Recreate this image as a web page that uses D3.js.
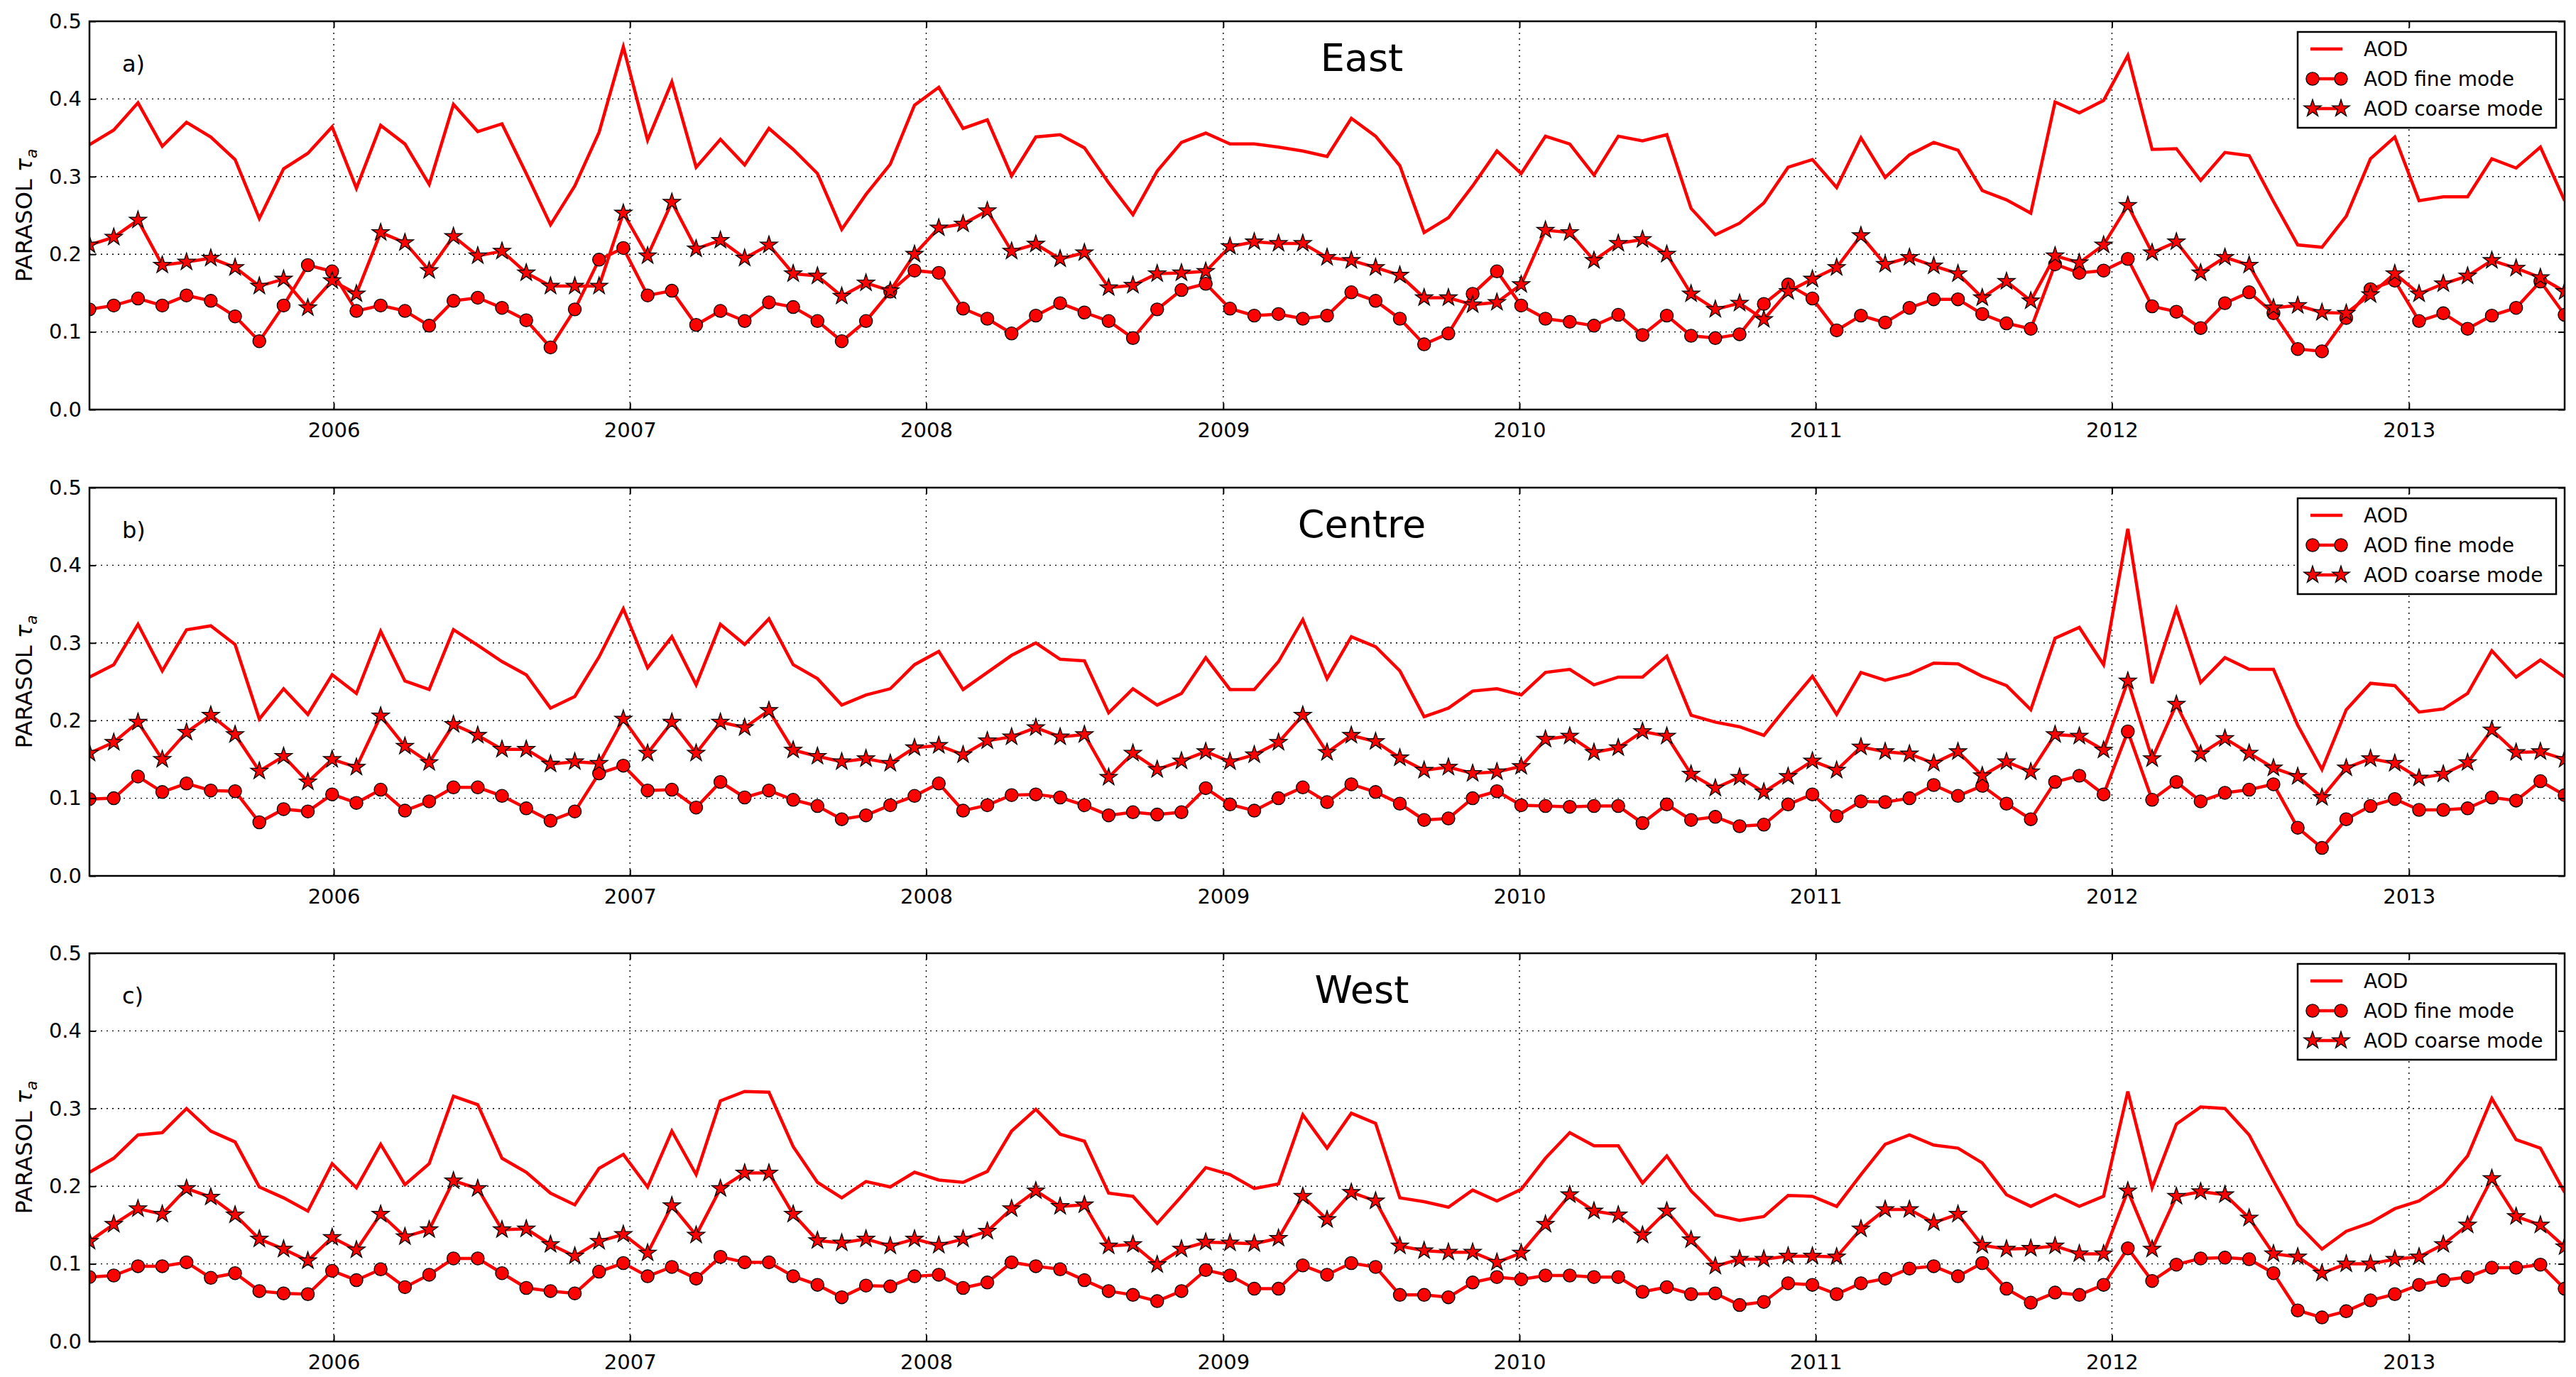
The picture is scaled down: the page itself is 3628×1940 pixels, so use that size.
<!DOCTYPE html>
<html>
<head>
<meta charset="utf-8">
<script src="https://cdn.jsdelivr.net/npm/d3@7"></script>
<style>
  body { margin: 0; background: #fff; }
  svg { display: block; font-family: "DejaVu Sans", sans-serif; }
</style>
</head>
<body>
<div id="vis"></div>
<script>
const width = 3628;
const height = 1940;

// categories / labels
const regions = ["East", "Centre", "West"];
const panelLetters = ["a)", "b)", "c)"];
const legendLabels = ["AOD", "AOD fine mode", "AOD coarse mode"];
const yTicks = [0.0, 0.1, 0.2, 0.3, 0.4, 0.5];
// composites every ~30 days starting early March 2005
const firstDay = new Date(2005, 2, 6);
const stepDays = 29.9;

// a) East
const eastAOD = [
	0.341, 0.360, 0.395, 0.339, 0.370, 0.351, 0.322, 0.246, 0.310, 0.330, 0.364, 0.285, 0.366,
	0.342, 0.290, 0.393, 0.358, 0.368, 0.304, 0.238, 0.288, 0.357, 0.467, 0.347, 0.422, 0.312,
	0.348, 0.315, 0.362, 0.335, 0.304, 0.232, 0.277, 0.316, 0.392, 0.415, 0.362, 0.373, 0.301,
	0.351, 0.354, 0.337, 0.292, 0.251, 0.307, 0.344, 0.356, 0.342, 0.342, 0.338, 0.333, 0.326,
	0.375, 0.352, 0.314, 0.228, 0.247, 0.288, 0.333, 0.304, 0.352, 0.342, 0.302, 0.352, 0.346,
	0.354, 0.259, 0.225, 0.240, 0.266, 0.312, 0.322, 0.286, 0.350, 0.299, 0.328, 0.344, 0.334,
	0.282, 0.270, 0.253, 0.396, 0.382, 0.398, 0.456, 0.335, 0.336, 0.295, 0.331, 0.327, 0.268,
	0.212, 0.209, 0.249, 0.323, 0.351, 0.269, 0.274, 0.274, 0.323, 0.311, 0.338, 0.269
];
const eastFine = [
	0.129, 0.134, 0.143, 0.134, 0.147, 0.140, 0.120, 0.088, 0.134, 0.186, 0.178, 0.127, 0.134,
	0.127, 0.108, 0.140, 0.144, 0.131, 0.115, 0.080, 0.129, 0.193, 0.208, 0.147, 0.153, 0.109,
	0.127, 0.114, 0.138, 0.132, 0.114, 0.088, 0.114, 0.152, 0.179, 0.176, 0.130, 0.117, 0.098,
	0.121, 0.137, 0.125, 0.114, 0.092, 0.129, 0.154, 0.162, 0.130, 0.121, 0.123, 0.117, 0.121,
	0.151, 0.140, 0.117, 0.084, 0.098, 0.149, 0.178, 0.134, 0.117, 0.113, 0.108, 0.122, 0.096,
	0.121, 0.095, 0.092, 0.097, 0.136, 0.161, 0.143, 0.102, 0.121, 0.112, 0.131, 0.142, 0.142,
	0.123, 0.111, 0.104, 0.187, 0.176, 0.179, 0.194, 0.133, 0.126, 0.105, 0.137, 0.151, 0.124,
	0.078, 0.075, 0.118, 0.155, 0.166, 0.114, 0.124, 0.104, 0.121, 0.131, 0.165, 0.122
];
const eastCoarse = [
	0.212, 0.222, 0.244, 0.186, 0.190, 0.195, 0.183, 0.159, 0.168, 0.131, 0.166, 0.149, 0.228,
	0.215, 0.179, 0.223, 0.198, 0.204, 0.176, 0.159, 0.159, 0.159, 0.253, 0.198, 0.267, 0.207,
	0.218, 0.195, 0.212, 0.175, 0.172, 0.146, 0.163, 0.153, 0.200, 0.234, 0.239, 0.256, 0.204,
	0.213, 0.194, 0.202, 0.157, 0.160, 0.175, 0.176, 0.178, 0.210, 0.216, 0.214, 0.214, 0.196,
	0.192, 0.183, 0.173, 0.144, 0.144, 0.135, 0.138, 0.161, 0.231, 0.228, 0.192, 0.214, 0.219,
	0.200, 0.149, 0.129, 0.137, 0.116, 0.152, 0.168, 0.183, 0.224, 0.187, 0.196, 0.185, 0.175,
	0.144, 0.165, 0.140, 0.198, 0.189, 0.212, 0.263, 0.202, 0.216, 0.176, 0.196, 0.186, 0.131,
	0.134, 0.125, 0.124, 0.148, 0.175, 0.149, 0.162, 0.172, 0.192, 0.182, 0.170, 0.152
];

// b) Centre
const centreAOD = [
	0.256, 0.272, 0.324, 0.264, 0.317, 0.322, 0.298, 0.202, 0.241, 0.208, 0.259, 0.235, 0.315,
	0.251, 0.240, 0.317, 0.297, 0.276, 0.259, 0.216, 0.231, 0.282, 0.344, 0.268, 0.308, 0.246,
	0.324, 0.298, 0.331, 0.272, 0.254, 0.220, 0.233, 0.241, 0.272, 0.289, 0.240, 0.262, 0.284,
	0.300, 0.279, 0.277, 0.210, 0.241, 0.220, 0.235, 0.281, 0.240, 0.240, 0.276, 0.330, 0.254,
	0.308, 0.295, 0.264, 0.205, 0.216, 0.238, 0.241, 0.233, 0.262, 0.266, 0.246, 0.256, 0.256,
	0.283, 0.207, 0.198, 0.192, 0.181, 0.220, 0.257, 0.208, 0.262, 0.252, 0.260, 0.274, 0.273,
	0.257, 0.245, 0.214, 0.306, 0.320, 0.272, 0.447, 0.248, 0.344, 0.249, 0.281, 0.266, 0.266,
	0.194, 0.137, 0.214, 0.248, 0.245, 0.211, 0.215, 0.235, 0.290, 0.256, 0.278, 0.256
];
const centreFine = [
	0.099, 0.100, 0.128, 0.108, 0.119, 0.110, 0.109, 0.069, 0.086, 0.083, 0.105, 0.094, 0.111,
	0.084, 0.096, 0.114, 0.114, 0.103, 0.087, 0.071, 0.083, 0.132, 0.142, 0.110, 0.111, 0.088,
	0.121, 0.101, 0.110, 0.098, 0.090, 0.073, 0.078, 0.091, 0.103, 0.119, 0.084, 0.091, 0.104,
	0.105, 0.101, 0.091, 0.078, 0.082, 0.079, 0.082, 0.113, 0.092, 0.084, 0.100, 0.114, 0.095,
	0.118, 0.108, 0.093, 0.072, 0.074, 0.100, 0.109, 0.091, 0.090, 0.089, 0.090, 0.090, 0.068,
	0.092, 0.072, 0.076, 0.064, 0.066, 0.092, 0.105, 0.077, 0.096, 0.095, 0.100, 0.117, 0.103,
	0.116, 0.093, 0.073, 0.121, 0.129, 0.105, 0.186, 0.098, 0.121, 0.096, 0.107, 0.111, 0.118,
	0.062, 0.036, 0.073, 0.090, 0.099, 0.085, 0.085, 0.087, 0.101, 0.097, 0.122, 0.104
];
const centreCoarse = [
	0.158, 0.172, 0.198, 0.150, 0.185, 0.207, 0.182, 0.135, 0.154, 0.121, 0.150, 0.140, 0.206,
	0.167, 0.146, 0.195, 0.181, 0.163, 0.163, 0.144, 0.147, 0.145, 0.202, 0.158, 0.198, 0.158,
	0.198, 0.191, 0.213, 0.162, 0.154, 0.147, 0.151, 0.145, 0.165, 0.168, 0.156, 0.174, 0.179,
	0.191, 0.179, 0.182, 0.127, 0.158, 0.137, 0.148, 0.160, 0.147, 0.156, 0.172, 0.207, 0.159,
	0.181, 0.173, 0.152, 0.136, 0.140, 0.132, 0.134, 0.141, 0.176, 0.180, 0.159, 0.165, 0.186,
	0.180, 0.131, 0.113, 0.127, 0.108, 0.128, 0.148, 0.136, 0.166, 0.160, 0.157, 0.145, 0.160,
	0.129, 0.147, 0.134, 0.182, 0.180, 0.162, 0.251, 0.151, 0.221, 0.157, 0.177, 0.158, 0.139,
	0.128, 0.101, 0.139, 0.151, 0.145, 0.126, 0.131, 0.146, 0.188, 0.159, 0.160, 0.150
];

// c) West
const westAOD = [
	0.218, 0.236, 0.266, 0.269, 0.300, 0.271, 0.257, 0.199, 0.185, 0.168, 0.229, 0.198, 0.254,
	0.202, 0.229, 0.316, 0.305, 0.236, 0.218, 0.191, 0.176, 0.223, 0.241, 0.199, 0.271, 0.215,
	0.310, 0.322, 0.321, 0.251, 0.205, 0.185, 0.206, 0.199, 0.218, 0.208, 0.205, 0.219, 0.271,
	0.299, 0.267, 0.258, 0.191, 0.187, 0.152, 0.187, 0.224, 0.215, 0.197, 0.203, 0.292, 0.249,
	0.294, 0.281, 0.185, 0.180, 0.173, 0.195, 0.181, 0.196, 0.236, 0.269, 0.252, 0.252, 0.204,
	0.239, 0.194, 0.163, 0.156, 0.161, 0.188, 0.187, 0.174, 0.215, 0.254, 0.266, 0.253, 0.249,
	0.230, 0.189, 0.174, 0.189, 0.174, 0.187, 0.322, 0.198, 0.280, 0.302, 0.300, 0.266, 0.207,
	0.151, 0.119, 0.142, 0.153, 0.171, 0.181, 0.202, 0.239, 0.313, 0.260, 0.249, 0.192
];
const westFine = [
	0.083, 0.085, 0.097, 0.097, 0.102, 0.082, 0.088, 0.065, 0.062, 0.061, 0.091, 0.079, 0.093,
	0.070, 0.086, 0.107, 0.107, 0.088, 0.069, 0.065, 0.062, 0.090, 0.101, 0.084, 0.096, 0.081,
	0.109, 0.102, 0.102, 0.084, 0.073, 0.057, 0.072, 0.071, 0.084, 0.086, 0.069, 0.076, 0.102,
	0.097, 0.093, 0.079, 0.065, 0.060, 0.052, 0.065, 0.092, 0.085, 0.068, 0.068, 0.098, 0.086,
	0.101, 0.096, 0.060, 0.060, 0.057, 0.076, 0.083, 0.080, 0.085, 0.085, 0.083, 0.083, 0.064,
	0.070, 0.061, 0.062, 0.047, 0.051, 0.075, 0.073, 0.061, 0.075, 0.081, 0.094, 0.097, 0.084,
	0.101, 0.068, 0.050, 0.063, 0.060, 0.073, 0.120, 0.078, 0.099, 0.107, 0.108, 0.106, 0.088,
	0.040, 0.031, 0.039, 0.053, 0.061, 0.073, 0.079, 0.083, 0.095, 0.095, 0.099, 0.068
];
const westCoarse = [
	0.129, 0.151, 0.171, 0.164, 0.197, 0.186, 0.163, 0.132, 0.119, 0.104, 0.134, 0.118, 0.164,
	0.135, 0.144, 0.207, 0.197, 0.144, 0.145, 0.125, 0.110, 0.129, 0.138, 0.114, 0.175, 0.137,
	0.197, 0.217, 0.217, 0.164, 0.130, 0.127, 0.132, 0.123, 0.132, 0.124, 0.132, 0.142, 0.171,
	0.194, 0.174, 0.176, 0.123, 0.125, 0.099, 0.119, 0.128, 0.127, 0.126, 0.133, 0.187, 0.157,
	0.192, 0.181, 0.123, 0.117, 0.115, 0.115, 0.102, 0.114, 0.151, 0.189, 0.168, 0.163, 0.137,
	0.168, 0.131, 0.097, 0.106, 0.106, 0.110, 0.110, 0.109, 0.145, 0.170, 0.170, 0.153, 0.164,
	0.124, 0.119, 0.120, 0.123, 0.113, 0.113, 0.194, 0.119, 0.187, 0.193, 0.189, 0.159, 0.113,
	0.109, 0.088, 0.100, 0.100, 0.106, 0.109, 0.125, 0.150, 0.210, 0.161, 0.150, 0.122
];

const panels = [
	{ aod: eastAOD, fine: eastFine, coarse: eastCoarse },
	{ aod: centreAOD, fine: centreFine, coarse: centreCoarse },
	{ aod: westAOD, fine: westFine, coarse: westCoarse }
];

// layout
const plotLeft = 126, plotRight = 3612;
const panelTops = [30, 687, 1343];
const panelHeight = 547;
const red = "#ff0000";

const dates = eastAOD.map((d, i) => d3.timeHour.offset(firstDay, Math.round(i * stepDays * 24)));

const x = d3.scaleTime()
	.domain([dates[0], dates[dates.length - 1]])
	.range([plotLeft, plotRight]);
const years = d3.timeYear.range(d3.timeYear.ceil(dates[0]), dates[dates.length - 1]);

const svg = d3.select("div#vis")
	.append("svg")
		.attr("width", width)
		.attr("height", height);

svg.append("rect").attr("width", width).attr("height", height).attr("fill", "#fff");

const circle = d3.symbol(d3.symbolCircle).size(260);
const star = d3.symbol(d3.symbolStar).size(185);

function styleAxis (g) {
	g.select(".domain").remove();
	g.selectAll(".tick line").attr("stroke", "#000").attr("stroke-width", 2);
	g.selectAll("text").attr("font-family", "DejaVu Sans").attr("font-size", 29).attr("fill", "#000");
}

panels.forEach((p, k) => {
	const top = panelTops[k];
	const bottom = top + panelHeight;
	const y = d3.scaleLinear().domain([0, 0.5]).range([bottom, top]);

	const g = svg.append("g");

	svg.append("clipPath")
		.attr("id", "clip" + k)
		.append("rect")
			.attr("x", plotLeft).attr("y", top)
			.attr("width", plotRight - plotLeft).attr("height", panelHeight);

	// dotted grid
	g.append("g").selectAll("line")
		.data(yTicks)
		.join("line")
			.attr("x1", plotLeft).attr("x2", plotRight)
			.attr("y1", d => y(d)).attr("y2", d => y(d))
			.attr("stroke", "#000").attr("stroke-width", 1.4)
			.attr("stroke-dasharray", "2,6");
	g.append("g").selectAll("line")
		.data(years)
		.join("line")
			.attr("x1", d => x(d)).attr("x2", d => x(d))
			.attr("y1", top).attr("y2", bottom)
			.attr("stroke", "#000").attr("stroke-width", 1.4)
			.attr("stroke-dasharray", "2,6");

	const line = d3.line()
		.x((d, i) => x(dates[i]))
		.y(d => y(d));

	const plot = g.append("g").attr("clip-path", `url(#clip${k})`);

	// AOD
	plot.append("path")
		.attr("d", line(p.aod))
		.attr("fill", "none").attr("stroke", red)
		.attr("stroke-width", 4.5).attr("stroke-linejoin", "miter");

	// fine mode with circles, coarse mode with stars
	[[p.fine, circle], [p.coarse, star]].forEach(([vals, sym]) => {
		plot.append("path")
			.attr("d", line(vals))
			.attr("fill", "none").attr("stroke", red)
			.attr("stroke-width", 4.5);
		plot.append("g").selectAll("path")
			.data(vals)
			.join("path")
				.attr("transform", (d, i) => `translate(${x(dates[i])},${y(d)})`)
				.attr("d", sym())
				.attr("fill", red)
				.attr("stroke", "#000").attr("stroke-width", 1.3);
	});

	// axes (ticks pointing inwards, classic style)
	g.append("g")
		.attr("transform", `translate(${plotLeft},0)`)
		.call(d3.axisLeft(y).tickValues(yTicks).tickFormat(d3.format(".1f"))
			.tickSizeInner(-9).tickSizeOuter(0).tickPadding(11))
		.call(styleAxis);
	g.append("g")
		.attr("transform", `translate(${plotRight},0)`)
		.call(d3.axisRight(y).tickValues(yTicks).tickFormat("")
			.tickSizeInner(-9).tickSizeOuter(0))
		.call(styleAxis);
	g.append("g")
		.attr("transform", `translate(0,${bottom})`)
		.call(d3.axisBottom(x).tickValues(years).tickFormat(d3.timeFormat("%Y"))
			.tickSizeInner(-9).tickSizeOuter(0).tickPadding(18))
		.call(styleAxis);
	g.append("g")
		.attr("transform", `translate(0,${top})`)
		.call(d3.axisTop(x).tickValues(years).tickFormat("")
			.tickSizeInner(-9).tickSizeOuter(0))
		.call(styleAxis);

	// frame
	g.append("rect")
		.attr("x", plotLeft).attr("y", top)
		.attr("width", plotRight - plotLeft).attr("height", panelHeight)
		.attr("fill", "none").attr("stroke", "#000").attr("stroke-width", 2.5);

	// labels
	g.append("text")
		.attr("x", 172).attr("y", top + 71)
		.attr("font-size", 32)
		.text(panelLetters[k]);
	g.append("text")
		.attr("x", 1918).attr("y", top + 70)
		.attr("text-anchor", "middle")
		.attr("font-size", 54)
		.text(regions[k]);

	const ylab = g.append("text")
		.attr("transform", `translate(45,${(top + bottom) / 2}) rotate(-90)`)
		.attr("text-anchor", "middle")
		.attr("font-size", 32);
	ylab.append("tspan").text("PARASOL ");
	ylab.append("tspan").attr("font-style", "italic").text("τ");
	ylab.append("tspan").attr("font-style", "italic").attr("font-size", 22).attr("dy", 7).text("a");

	// legend
	const lg = g.append("g").attr("transform", `translate(3236,${top + 15})`);
	lg.append("rect")
		.attr("width", 364).attr("height", 135)
		.attr("fill", "#fff").attr("stroke", "#000").attr("stroke-width", 2.5);
	const symbols = [null, circle, star];
	legendLabels.forEach((lab, j) => {
		const ly = 24 + j * 42;
		lg.append("line")
			.attr("x1", 18).attr("x2", 63).attr("y1", ly).attr("y2", ly)
			.attr("stroke", red).attr("stroke-width", 4.5);
		if (symbols[j]) {
			lg.append("g").selectAll("path")
				.data([21, 61])
				.join("path")
					.attr("transform", d => `translate(${d},${ly})`)
					.attr("d", symbols[j]())
					.attr("fill", red)
					.attr("stroke", "#000").attr("stroke-width", 1.3);
		}
		lg.append("text")
			.attr("x", 93).attr("y", ly)
			.attr("dy", "0.36em")
			.attr("font-size", 28)
			.text(lab);
	});
});
</script>
</body>
</html>
